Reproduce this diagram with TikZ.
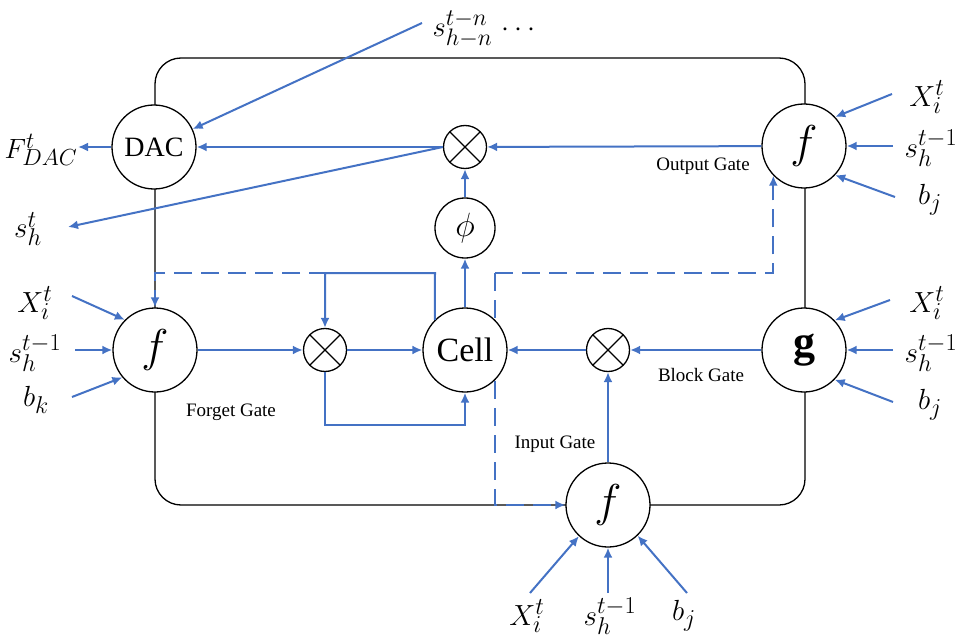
\documentclass[tikz,border=0pt]{standalone}
\usepackage{graphicx}
\usepackage{fontspec}
\setmainfont{Liberation Serif}
\usetikzlibrary{arrows.meta}
\definecolor{lblue}{HTML}{4472C4}
\pgfdeclarelayer{background}
\pgfsetlayers{background,main}
\newcommand{\mlab}[2]{\scalebox{#1}{$#2$}}
\begin{document}
\begin{tikzpicture}[x=1pt,y=-1pt,
  conn/.style={draw=lblue, line width=2pt, -{Latex[length=10pt,width=9pt]}},
  dconn/.style={conn, dash pattern=on 18pt off 9pt},
  bigc/.style={circle, draw, line width=1.3pt, fill=white, minimum size=84pt, inner sep=0pt},
  smallc/.style={circle, draw, line width=1.3pt, fill=white, minimum size=60pt, inner sep=0pt},
  multc/.style={circle, draw, line width=1.3pt, fill=white, minimum size=43pt, inner sep=0pt,
     path picture={\draw[line width=1.3pt] (path picture bounding box.south west) -- (path picture bounding box.north east) (path picture bounding box.north west) -- (path picture bounding box.south east);}},
  lab/.style={inner sep=0pt, font=\fontsize{24.88}{28}\selectfont},
  gate/.style={inner sep=0pt, font=\fontsize{19}{22}\selectfont},
  fsym/.style={font=\fontsize{24.88}{28}\selectfont}
]
\useasboundingbox (0,0) rectangle (961,639);

% nodes
\node[bigc, font=\fontsize{28}{30}\selectfont] (dac) at (154,147) {DAC};
\node[multc] (m1) at (465,147) {};
\node[smallc, fsym] (phi) at (465,228) {\mlab{1.35}{\phi}};
\node[bigc, fsym] (fo) at (804,146) {\mlab{1.85}{f}};
\node[bigc, fsym] (ff) at (155,350) {\mlab{1.85}{f}};
\node[multc] (m2) at (325,350) {};
\node[bigc, font=\fontsize{34}{36}\selectfont] (cell) at (465,350) {Cell};
\node[multc] (m3) at (608,350) {};
\node[bigc, font=\fontsize{44}{48}\selectfont\bfseries] (g) at (804,350) {g};
\node[bigc, fsym] (fi) at (608,505) {\mlab{1.85}{f}};

% labels
\node[lab] (lsn) at (484,29) {\mlab{1.15}{s_{h-n}^{t-n}\,\cdots}};
\node[lab] (lF) at (41,150) {\mlab{1.12}{F_{DAC}^t}};
\node[lab] (lsh) at (28,229) {\mlab{1.17}{s_h^t}};
\node[lab] (lxo) at (927,97) {\mlab{1.17}{X_i^t}};
\node[lab] (lso) at (931,148) {\mlab{1.17}{s_h^{t-1}}};
\node[lab] (lbo) at (930,200) {\mlab{1.17}{b_j}};
\node[lab] (lxf) at (35,303) {\mlab{1.17}{X_i^t}};
\node[lab] (lsf) at (35,353) {\mlab{1.17}{s_h^{t-1}}};
\node[lab] (lbf) at (36,400) {\mlab{1.17}{b_k}};
\node[lab] (lxg) at (927,303) {\mlab{1.17}{X_i^t}};
\node[lab] (lsg) at (931,353) {\mlab{1.17}{s_h^{t-1}}};
\node[lab] (lbg) at (930,405) {\mlab{1.17}{b_j}};
\node[lab] (lxi) at (527,616) {\mlab{1.17}{X_i^t}};
\node[lab] (lsi) at (610,616) {\mlab{1.17}{s_h^{t-1}}};
\node[lab] (lbi) at (684,616) {\mlab{1.17}{b_j}};

\node[gate] (tOG) at (703,166) {Output Gate};
\node[gate] (tFG) at (231,412) {Forget Gate};
\node[gate] (tBG) at (701,375) {Block Gate};
\node[gate] (tIG) at (555,444) {Input Gate};

% free ends
\coordinate (a1) at (422,23);
\coordinate (a2) at (78,147);
\coordinate (a3) at (68,227);
\coordinate (o1) at (892,94);
\coordinate (o2) at (893,146);
\coordinate (o3) at (895,197);
\coordinate (f1) at (72,296);
\coordinate (f2) at (75,350);
\coordinate (f3) at (72,397);
\coordinate (g1) at (890,300);
\coordinate (g2) at (893,350);
\coordinate (g3) at (893,402);
\coordinate (i1) at (530,593);
\coordinate (i2) at (608,593);
\coordinate (i3) at (687,593);
\coordinate (cp) at (435,273);
\coordinate (cq) at (495,273);
\coordinate (lb) at (465,425);

\begin{pgfonlayer}{background}
\draw[line width=1.3pt, rounded corners=26pt] (155,58) rectangle (805,505);
\draw[dconn] (cp) -| (ff);
\draw[dconn] (cq) -| (fo.-136);
\draw[dconn] (cq) |- (fi);
\end{pgfonlayer}

% connectors
\draw[conn] (a1) -- (dac);
\draw[conn] (dac) -- (a2);
\draw[conn] (m1.west) -- (a3);
\draw[conn] (fo) -- (m1);
\draw[conn] (m1) -- (dac);
\draw[conn] (phi) -- (m1);
\draw[conn] (cell) -- (phi);
\draw[conn] (ff) -- (m2);
\draw[conn] (m2) -- (cell);
\draw[conn] (m3) -- (cell);
\draw[conn] (g) -- (m3);
\draw[conn] (fi) -- (m3);
\draw[conn] (cell.135) -- (cp) -| (m2);
\draw[conn] (m2) |- (lb) -- (cell);

\draw[conn] (o1) -- (fo.43);
\draw[conn] (o2) -- (fo.east);
\draw[conn] (o3) -- (fo.-43);
\draw[conn] (f1) -- (ff.135);
\draw[conn] (f2) -- (ff.west);
\draw[conn] (f3) -- (ff.-140);
\draw[conn] (g1) -- (g.44);
\draw[conn] (g2) -- (g.east);
\draw[conn] (g3) -- (g.-44);
\draw[conn] (i1) -- (fi.-133);
\draw[conn] (i2) -- (fi.south);
\draw[conn] (i3) -- (fi.-46);
\end{tikzpicture}
\end{document}
